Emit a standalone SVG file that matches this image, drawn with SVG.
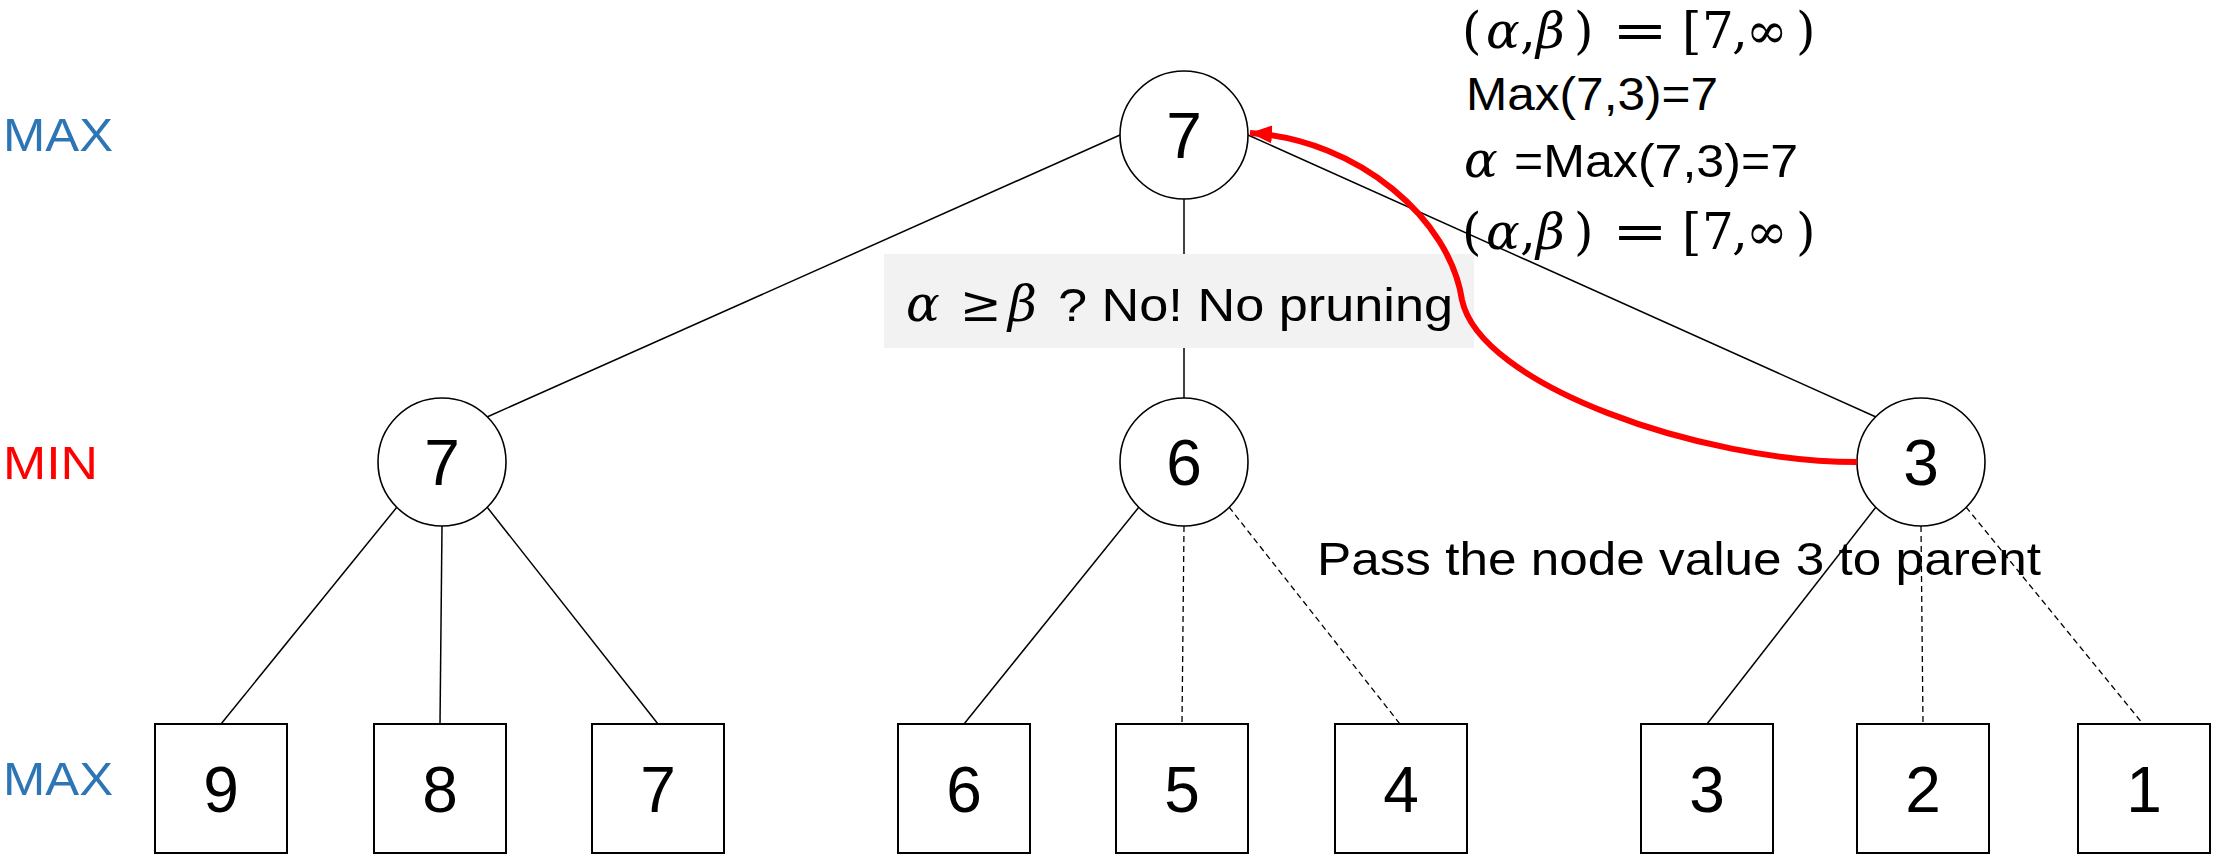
<svg xmlns="http://www.w3.org/2000/svg" width="2214" height="860" viewBox="0 0 2214 860">
<defs>
<style>
.node circle{fill:#fff;stroke:#000;stroke-width:1.6}
.node rect{fill:#fff;stroke:#000;stroke-width:2}
.num{font-family:"Liberation Sans",Arial,sans-serif;font-size:64px;fill:#000;text-anchor:middle}
.edge{stroke:#000;stroke-width:1.5;fill:none}
.dash{stroke:#000;stroke-width:1.3;fill:none;stroke-dasharray:6 4}
.sans{font-family:"Liberation Sans",Arial,sans-serif;font-size:46px;fill:#000}
.math{font-family:"DejaVu Serif","Liberation Serif",serif;font-size:50px;fill:#000}
.it{font-style:italic}
.lvl{font-family:"Liberation Sans",Arial,sans-serif;font-size:46px}
</style>
<marker id="ah" markerUnits="userSpaceOnUse" markerWidth="26" markerHeight="20" refX="22" refY="9" orient="auto">
<path d="M0,0 L22,9 L0,18 Z" fill="#ff0000"/>
</marker>
</defs>
<rect width="2214" height="860" fill="#fff"/>

<g id="level-labels">
<text class="lvl" x="3" y="151" fill="#2E75B6" textLength="110" lengthAdjust="spacingAndGlyphs">MAX</text>
<text class="lvl" x="3" y="479" fill="#ff0000" textLength="95" lengthAdjust="spacingAndGlyphs">MIN</text>
<text class="lvl" x="3" y="795" fill="#2E75B6" textLength="110" lengthAdjust="spacingAndGlyphs">MAX</text>
</g>

<g id="connectors">
<line class="edge" x1="1120" y1="135" x2="487" y2="417"/>
<line class="edge" x1="1184" y1="199" x2="1184" y2="398"/>
<line class="edge" x1="1248" y1="135" x2="1876" y2="417"/>
<line class="edge" x1="397" y1="507" x2="221" y2="724"/>
<line class="edge" x1="442" y1="526" x2="440" y2="724"/>
<line class="edge" x1="487" y1="507" x2="658" y2="724"/>
<line class="edge" x1="1139" y1="507" x2="964" y2="724"/>
<line class="dash" x1="1184" y1="526" x2="1182" y2="724"/>
<line class="dash" x1="1229" y1="507" x2="1400" y2="724"/>
<line class="edge" x1="1876" y1="507" x2="1707" y2="724"/>
<line class="dash" x1="1921" y1="526" x2="1923" y2="724"/>
<line class="dash" x1="1966" y1="507" x2="2143" y2="724"/>
</g>

<g id="n-root" class="node"><circle cx="1184" cy="135" r="64"/><text class="num" x="1184" y="158">7</text></g>
<g id="n-min1" class="node"><circle cx="442" cy="462" r="64"/><text class="num" x="442" y="485">7</text></g>
<g id="n-min2" class="node"><circle cx="1184" cy="462" r="64"/><text class="num" x="1184" y="485">6</text></g>
<g id="n-min3" class="node"><circle cx="1921" cy="462" r="64"/><text class="num" x="1921" y="485">3</text></g>

<g id="leaf-9" class="node"><rect x="155" y="724" width="132" height="129"/><text class="num" x="221" y="812">9</text></g>
<g id="leaf-8" class="node"><rect x="374" y="724" width="132" height="129"/><text class="num" x="440" y="812">8</text></g>
<g id="leaf-7" class="node"><rect x="592" y="724" width="132" height="129"/><text class="num" x="658" y="812">7</text></g>
<g id="leaf-6" class="node"><rect x="898" y="724" width="132" height="129"/><text class="num" x="964" y="812">6</text></g>
<g id="leaf-5" class="node"><rect x="1116" y="724" width="132" height="129"/><text class="num" x="1182" y="812">5</text></g>
<g id="leaf-4" class="node"><rect x="1335" y="724" width="132" height="129"/><text class="num" x="1401" y="812">4</text></g>
<g id="leaf-3" class="node"><rect x="1641" y="724" width="132" height="129"/><text class="num" x="1707" y="812">3</text></g>
<g id="leaf-2" class="node"><rect x="1857" y="724" width="132" height="129"/><text class="num" x="1923" y="812">2</text></g>
<g id="leaf-1" class="node"><rect x="2078" y="724" width="132" height="129"/><text class="num" x="2144" y="812">1</text></g>

<g id="prune-label">
<rect x="884" y="254" width="590" height="94" fill="#F2F2F2"/>
<text class="math it" x="906" y="321">α</text>
<text class="math" x="960" y="321" font-size="48">≥</text>
<text class="math it" x="1008" y="321">β</text>
<text class="sans" x="1058" y="321" font-size="44" textLength="395" lengthAdjust="spacingAndGlyphs">? No! No pruning</text>
</g>

<g id="annotation">
<text class="math" y="48"><tspan x="1462">(</tspan><tspan class="it" x="1486">α</tspan><tspan x="1520">,</tspan><tspan class="it" x="1536">β</tspan><tspan x="1574">)</tspan><tspan x="1682">[</tspan><tspan x="1702">7</tspan><tspan x="1732">,</tspan><tspan x="1746">∞</tspan><tspan x="1796">)</tspan></text>
<text class="math" x="1612" y="48" textLength="56" lengthAdjust="spacingAndGlyphs">=</text>
<text class="sans" x="1466" y="110" textLength="252" lengthAdjust="spacingAndGlyphs">Max(7,3)=7</text>
<text class="math it" x="1464" y="177">α</text>
<text class="sans" x="1514" y="177" textLength="284" lengthAdjust="spacingAndGlyphs">=Max(7,3)=7</text>
<text class="math" y="249"><tspan x="1462">(</tspan><tspan class="it" x="1486">α</tspan><tspan x="1520">,</tspan><tspan class="it" x="1536">β</tspan><tspan x="1574">)</tspan><tspan x="1682">[</tspan><tspan x="1702">7</tspan><tspan x="1732">,</tspan><tspan x="1746">∞</tspan><tspan x="1796">)</tspan></text>
<text class="math" x="1612" y="249" textLength="56" lengthAdjust="spacingAndGlyphs">=</text>
</g>

<g id="pass-note">
<text class="sans" x="1317" y="575" textLength="724" lengthAdjust="spacingAndGlyphs">Pass the node value 3 to parent</text>
</g>

<g id="return-arrow">
<path d="M1857,462 C1700,462 1480,385 1462,300 C1450,220 1360,140 1250,133" fill="none" stroke="#ff0000" stroke-width="6" marker-end="url(#ah)"/>
</g>
</svg>
